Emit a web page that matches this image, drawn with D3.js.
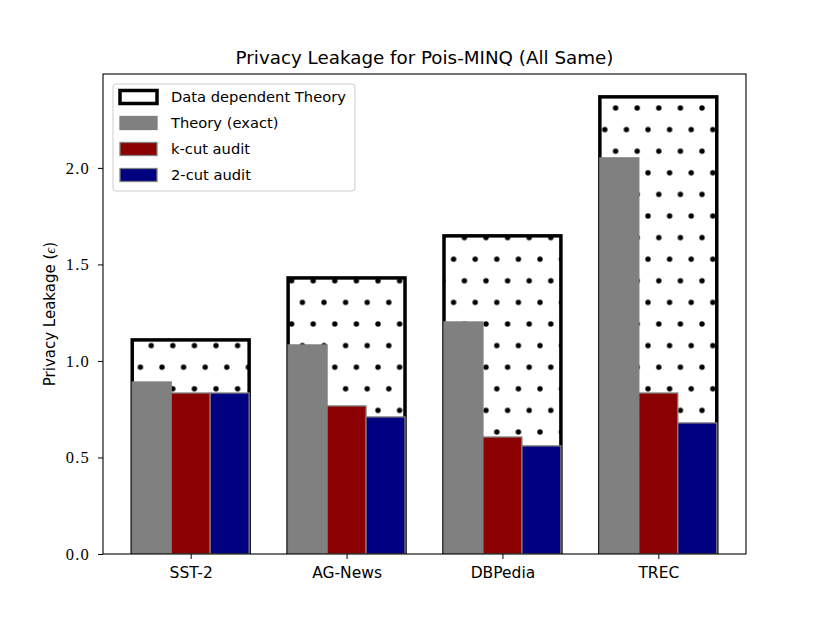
<!DOCTYPE html>
<html><head><meta charset="utf-8">
<script src="https://cdn.jsdelivr.net/npm/d3@7"></script>
<style>body{margin:0;background:#fff}</style>
</head><body>
<script>
const categories = ["SST-2", "AG-News", "DBPedia", "TREC"];
const dataDependent = [1.109, 1.430, 1.648, 2.368];
const theoryExact = [0.891, 1.083, 1.202, 2.052];
const kCut = [0.834, 0.767, 0.606, 0.834];
const twoCut = [0.834, 0.710, 0.560, 0.679];
const yTicks = [0.0, 0.5, 1.0, 1.5, 2.0];
const legendLabels = ["Data dependent Theory", "Theory (exact)", "k-cut audit", "2-cut audit"];

const W = 830, H = 623;
const L = 103, R = 746, T = 74, B = 554;
const SANS = "'DejaVu Sans', sans-serif";
const SERIF = "'Liberation Serif', serif";
const svg = d3.select("body").append("svg").attr("width", W).attr("height", H);

const x = d3.scaleLinear().domain([-0.5625, 3.5625]).range([L, R]);
const yMax = d3.max(dataDependent) * 1.05;
const y = d3.scaleLinear().domain([0, yMax]).range([B, T]);

// hatch pattern anchored to page
const sp = 21.6;
const defs = svg.append("defs");
const pat = defs.append("pattern").attr("id", "dots").attr("patternUnits", "userSpaceOnUse")
  .attr("width", sp).attr("height", sp * 2).attr("x", 0).attr("y", 345.6 - sp * 16);
[[0, 0], [sp, 0], [0, 2 * sp], [sp, 2 * sp], [sp / 2, sp]].forEach(([cx, cy]) => {
  pat.append("circle").attr("cx", cx).attr("cy", cy).attr("r", 2.7).attr("fill", "#000");
});

const clip = defs.append("clipPath").attr("id", "plotclip");
clip.append("rect").attr("x", L).attr("y", T).attr("width", R - L).attr("height", B - T);

const g = svg.append("g").attr("clip-path", "url(#plotclip)");

// outline bars
g.selectAll("rect.dd").data(dataDependent).join("rect").attr("class", "dd")
  .attr("x", (d, i) => x(i - 0.375)).attr("width", x(0.75) - x(0))
  .attr("y", d => y(d)).attr("height", d => y(0) - y(d))
  .attr("fill", "url(#dots)").attr("stroke", "#000").attr("stroke-width", 3.5);

const series = [
  {vals: theoryExact, off: -0.25, fill: "#808080"},
  {vals: kCut, off: 0, fill: "#8b0000"},
  {vals: twoCut, off: 0.25, fill: "#000080"}
];
series.forEach(s => {
  g.selectAll(null).data(s.vals).join("rect")
    .attr("x", (d, i) => x(i + s.off - 0.125)).attr("width", x(0.25) - x(0))
    .attr("y", d => y(d)).attr("height", d => y(0) - y(d))
    .attr("fill", s.fill).attr("stroke", "#808080").attr("stroke-width", 1.3);
});

// frame
svg.append("rect").attr("x", L).attr("y", T).attr("width", R - L).attr("height", B - T)
  .attr("fill", "none").attr("stroke", "#000").attr("stroke-width", 1.1);

// y axis
const yAxis = d3.axisLeft(y).tickValues(yTicks).tickFormat(d3.format(".1f")).tickSize(5).tickPadding(8);
const ya = svg.append("g").attr("transform", `translate(${L},0)`).call(yAxis);
ya.select(".domain").remove();
ya.selectAll("text").attr("font-family", SERIF).attr("font-size", 16.5).attr("letter-spacing", 1.2).attr("fill", "#000");

// x axis
const xAxis = d3.axisBottom(x).tickValues(d3.range(categories.length)).tickFormat(i => categories[i]).tickSize(5).tickPadding(8);
const xa = svg.append("g").attr("transform", `translate(0,${B})`).call(xAxis);
xa.select(".domain").remove();
xa.selectAll("text").attr("font-family", SANS).attr("font-size", 15.5).attr("fill", "#000");

// title
svg.append("text").attr("x", (L + R) / 2).attr("y", 64).attr("text-anchor", "middle")
  .attr("font-family", SANS).attr("font-size", 18.3)
  .text("Privacy Leakage for Pois-MINQ (All Same)");

// y label
const yl = svg.append("text").attr("transform", `translate(55,314) rotate(-90)`).attr("text-anchor", "middle")
  .attr("font-family", SANS).attr("font-size", 15);
yl.append("tspan").text("Privacy Leakage (");
yl.append("tspan").attr("font-family", SERIF).attr("font-style", "italic").text("ϵ");
yl.append("tspan").text(")");

// legend
const lg = svg.append("g");
lg.append("rect").attr("x", 113).attr("y", 84).attr("width", 242).attr("height", 107).attr("rx", 3)
  .attr("fill", "#fff").attr("fill-opacity", 0.8).attr("stroke", "#ccc").attr("stroke-width", 1);
const handleStyles = [
  {fill: "#fff", stroke: "#000", sw: 3.5},
  {fill: "#808080", stroke: "#808080", sw: 1.3},
  {fill: "#8b0000", stroke: "#808080", sw: 1.3},
  {fill: "#000080", stroke: "#808080", sw: 1.3}
];
legendLabels.forEach((lab, i) => {
  const cy = 97 + i * 26;
  const hs = handleStyles[i];
  lg.append("rect").attr("x", 120).attr("y", cy - 6.5).attr("width", 37).attr("height", 13)
    .attr("fill", hs.fill).attr("stroke", hs.stroke).attr("stroke-width", hs.sw);
  lg.append("text").attr("x", 171).attr("y", cy + 5).attr("font-family", SANS)
    .attr("font-size", 14.7).text(lab);
});
</script>
</body></html>
